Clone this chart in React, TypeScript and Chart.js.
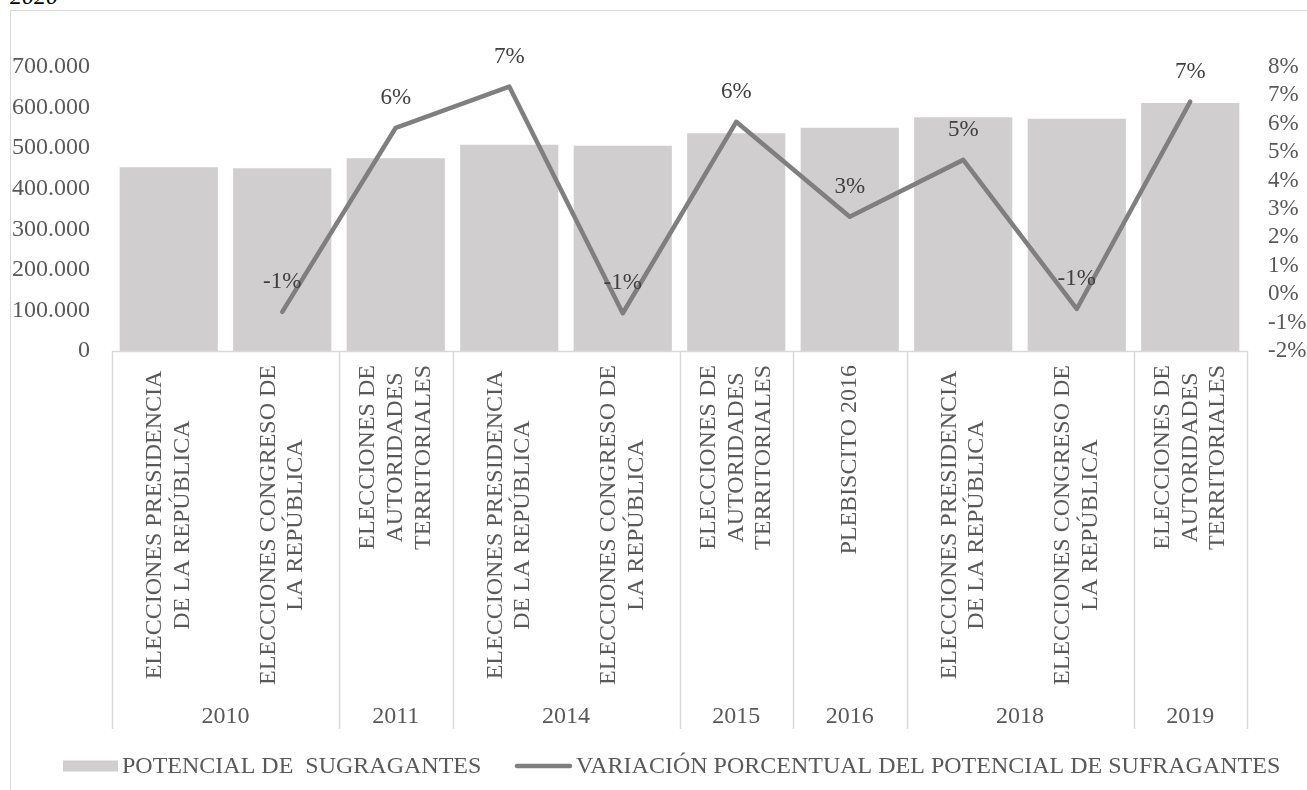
import React, { useEffect, useRef } from "react";
import { Chart, registerables } from "chart.js";

Chart.register(...registerables);

// ---------- DATA ----------
const categoryLabels: string[][] = [
  ["ELECCIONES PRESIDENCIA", "DE LA REPÚBLICA"],
  ["ELECCIONES CONGRESO DE", "LA REPÚBLICA"],
  ["ELECCIONES DE", "AUTORIDADES", "TERRITORIALES"],
  ["ELECCIONES PRESIDENCIA", "DE LA REPÚBLICA"],
  ["ELECCIONES CONGRESO DE", "LA REPÚBLICA"],
  ["ELECCIONES DE", "AUTORIDADES", "TERRITORIALES"],
  ["PLEBISCITO 2016"],
  ["ELECCIONES PRESIDENCIA", "DE LA REPÚBLICA"],
  ["ELECCIONES CONGRESO DE", "LA REPÚBLICA"],
  ["ELECCIONES DE", "AUTORIDADES", "TERRITORIALES"],
];
const years: string[] = ["2010", "2011", "2014", "2015", "2016", "2018", "2019"];
const yearGroupSizes: number[] = [2, 1, 2, 1, 1, 2, 1];

const potencialSufragantes: number[] = [
  452800, 450300, 475000, 508500, 506000, 536500, 550400, 576000, 572600, 611300,
];
const variacionPorcentual: (number | null)[] = [
  null, -0.62, 5.86, 7.31, -0.67, 6.07, 2.73, 4.73, -0.52, 6.78,
];

const seriesNames: string[] = [
  "POTENCIAL DE  SUGRAGANTES",
  "VARIACIÓN PORCENTUAL DEL POTENCIAL DE SUFRAGANTES",
];

const leftAxisMin = 0;
const leftAxisMax = 700000;
const leftAxisStep = 100000;
const rightAxisMin = -2;
const rightAxisMax = 8;
const rightAxisStep = 1;

// ---------- STYLE ----------
const FONT = "'Liberation Serif', 'Times New Roman', serif";
const TEXT = "#595959";
const LABEL_DARK = "#404040";
const BAR_COLOR = "#d0cece";
const LINE_COLOR = "#7f7f7f";
const AXIS_LINE = "#d9d9d9";

const CANVAS_W = 1296;
const CANVAS_H = 779;

function fmtThousands(v: number): string {
  const s = String(Math.round(v));
  return s.replace(/\B(?=(\d{3})+(?!\d))/g, ".");
}

const categoryAxisPlugin = {
  id: "categoryAxisPlugin",
  afterDraw(chart: any) {
    const ctx: CanvasRenderingContext2D = chart.ctx;
    const xs = chart.scales.x;
    const area = chart.chartArea;
    const half = (xs.getPixelForValue(1) - xs.getPixelForValue(0)) / 2;
    ctx.save();
    // axis line
    ctx.strokeStyle = AXIS_LINE;
    ctx.lineWidth = 1.5;
    ctx.beginPath();
    ctx.moveTo(area.left, area.bottom + 0.5);
    ctx.lineTo(area.right, area.bottom + 0.5);
    ctx.stroke();

    // group separators
    const bounds: number[] = [xs.getPixelForValue(0) - half];
    let idx = 0;
    yearGroupSizes.forEach((n) => {
      idx += n;
      bounds.push(xs.getPixelForValue(idx - 1) + half);
    });
    bounds.forEach((bx) => {
      const x = Math.round(bx) + 0.5;
      ctx.beginPath();
      ctx.moveTo(x, area.bottom);
      ctx.lineTo(x, area.bottom + 378);
      ctx.stroke();
    });

    // year labels
    ctx.fillStyle = TEXT;
    ctx.font = `24px ${FONT}`;
    ctx.textAlign = "center";
    ctx.textBaseline = "middle";
    for (let g = 0; g < years.length; g++) {
      const cx = (bounds[g] + bounds[g + 1]) / 2;
      ctx.fillText(years[g], cx, area.bottom + 366);
    }

    // category labels (rotated)
    ctx.font = `24px ${FONT}`;
    const widthByLines: Record<number, number> = {};
    categoryLabels.forEach((lines) => {
      const w = Math.max(...lines.map((l) => ctx.measureText(l).width));
      widthByLines[lines.length] = Math.max(widthByLines[lines.length] || 0, w);
    });
    const lineH = 27.6;
    const top = area.bottom + 14;
    categoryLabels.forEach((lines, i) => {
      const cx = xs.getPixelForValue(i);
      const blockW = widthByLines[lines.length];
      ctx.save();
      ctx.translate(cx, top);
      ctx.rotate(-Math.PI / 2);
      ctx.textAlign = "center";
      ctx.textBaseline = "middle";
      const n = lines.length;
      lines.forEach((l, j) => {
        const yy = (j - (n - 1) / 2) * lineH;
        ctx.fillText(l, -blockW / 2, yy);
      });
      ctx.restore();
    });

    // legend
    const ly = 755;
    ctx.fillStyle = BAR_COLOR;
    ctx.fillRect(52, ly - 5.5, 55, 11);
    ctx.fillStyle = TEXT;
    ctx.textAlign = "left";
    ctx.textBaseline = "middle";
    ctx.font = `24px ${FONT}`;
    ctx.fillText(seriesNames[0], 111, ly + 1);
    ctx.strokeStyle = LINE_COLOR;
    ctx.lineWidth = 4.5;
    ctx.lineCap = "round";
    ctx.beginPath();
    ctx.moveTo(506, ly);
    ctx.lineTo(559, ly);
    ctx.stroke();
    ctx.fillText(seriesNames[1], 565, ly + 1);
    ctx.restore();
  },
};

const dataLabelPlugin = {
  id: "dataLabelPlugin",
  afterDatasetsDraw(chart: any) {
    const ctx: CanvasRenderingContext2D = chart.ctx;
    const meta = chart.getDatasetMeta(1);
    const data = chart.data.datasets[1].data as (number | null)[];
    ctx.save();
    ctx.fillStyle = LABEL_DARK;
    ctx.font = `23px ${FONT}`;
    ctx.textAlign = "center";
    ctx.textBaseline = "middle";
    meta.data.forEach((pt: any, i: number) => {
      const v = data[i];
      if (v === null || v === undefined) return;
      ctx.fillText(`${Math.round(v)}%`, pt.x, pt.y - 30);
    });
    ctx.restore();
  },
};

export default function App() {
  const canvasRef = useRef<HTMLCanvasElement | null>(null);

  useEffect(() => {
    if (!canvasRef.current) return;
    const chart = new Chart(canvasRef.current, {
      type: "bar",
      data: {
        labels: categoryLabels.map((l) => l.join(" ")),
        datasets: [
          {
            type: "bar",
            label: seriesNames[0],
            data: potencialSufragantes,
            backgroundColor: BAR_COLOR,
            borderWidth: 0,
            yAxisID: "y",
            categoryPercentage: 1,
            barPercentage: 0.865,
            order: 1,
          } as any,
          {
            type: "line",
            label: seriesNames[1],
            data: variacionPorcentual,
            borderColor: LINE_COLOR,
            backgroundColor: LINE_COLOR,
            borderWidth: 4.5,
            pointRadius: 0,
            pointHoverRadius: 0,
            tension: 0,
            borderCapStyle: "round",
            borderJoinStyle: "round",
            yAxisID: "y1",
            order: 0,
            clip: false,
          } as any,
        ],
      },
      options: {
        responsive: false,
        animation: false,
        events: [],
        layout: { padding: { top: 56, left: 0, right: 0, bottom: 0 } },
        plugins: {
          legend: { display: false },
          tooltip: { enabled: false },
          title: { display: false },
        },
        scales: {
          x: {
            offset: true,
            grid: { display: false, drawTicks: false },
            border: { display: false },
            ticks: { display: false },
            afterFit(scale: any) {
              scale.height = CANVAS_H - 340;
            },
          },
          y: {
            position: "left",
            min: leftAxisMin,
            max: leftAxisMax,
            grid: { display: false, drawTicks: false },
            border: { display: false },
            ticks: {
              stepSize: leftAxisStep,
              autoSkip: false,
              padding: 22,
              color: TEXT,
              font: { family: FONT, size: 24 },
              callback: (v: any) => fmtThousands(Number(v)),
            },
            afterFit(scale: any) {
              scale.width = 101;
            },
          },
          y1: {
            position: "right",
            min: rightAxisMin,
            max: rightAxisMax,
            grid: { display: false, drawTicks: false },
            border: { display: false },
            ticks: {
              stepSize: rightAxisStep,
              autoSkip: false,
              padding: 21,
              color: TEXT,
              font: { family: FONT, size: 23 },
              callback: (v: any) => `${v}%`,
            },
            afterFit(scale: any) {
              scale.width = CANVAS_W - 1236;
            },
          },
        },
      },
      plugins: [categoryAxisPlugin, dataLabelPlugin],
    } as any);
    return () => chart.destroy();
  }, []);

  return (
    <div
      style={{
        position: "fixed",
        left: 0,
        top: 0,
        width: 1307,
        height: 790,
        overflow: "hidden",
        background: "#ffffff",
      }}
    >
      <div
        style={{
          position: "absolute",
          left: 10,
          top: -16,
          fontFamily: FONT,
          fontStyle: "italic",
          fontSize: 24,
          lineHeight: "24px",
          color: "#000",
        }}
      >
        2020
      </div>
      <div
        style={{
          position: "absolute",
          left: 10,
          top: 10,
          width: 1400,
          height: 900,
          borderLeft: `1.5px solid ${AXIS_LINE}`,
          borderTop: `1.5px solid ${AXIS_LINE}`,
        }}
      />
      <canvas
        ref={canvasRef}
        width={CANVAS_W}
        height={CANVAS_H}
        style={{ position: "absolute", left: 11, top: 11, width: CANVAS_W, height: CANVAS_H }}
      />
    </div>
  );
}
